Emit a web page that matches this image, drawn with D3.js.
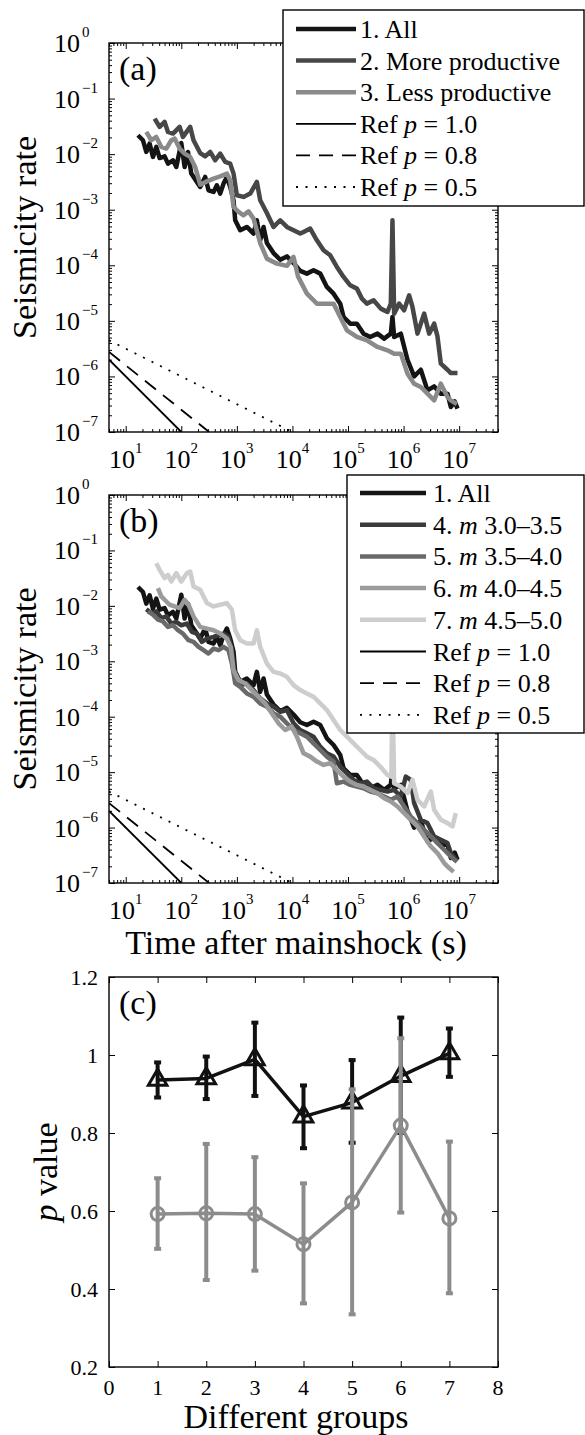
<!DOCTYPE html>
<html>
<head>
<meta charset="utf-8">
<script src="https://cdn.jsdelivr.net/npm/d3@7/dist/d3.min.js"></script>
<style>
body { margin: 0; background: #fff; }
svg text { font-family: "Liberation Serif", "DejaVu Serif", serif; fill: #000; }
</style>
</head>
<body>
<div id="chart"></div>
<script>
// curves are [log10 time (s), log10 seismicity rate]
var curveAll = [[1.22,-1.66],[1.31,-1.75],[1.37,-1.96],[1.43,-1.81],[1.49,-2.05],[1.55,-1.87],[1.61,-2.07],[1.70,-2.04],[1.76,-2.17],[1.85,-2.11],[1.91,-2.23],[2.00,-1.80],[2.06,-2.23],[2.12,-1.96],[2.18,-2.35],[2.28,-2.50],[2.34,-2.59],[2.43,-2.41],[2.49,-2.65],[2.58,-2.68],[2.64,-2.56],[2.70,-2.71],[2.76,-2.53],[2.82,-2.41],[2.88,-2.59],[2.94,-2.83],[2.97,-3.19],[3.06,-3.37],[3.18,-3.31],[3.30,-3.43],[3.36,-3.19],[3.42,-3.55],[3.48,-3.31],[3.54,-3.60],[3.66,-3.78],[3.78,-3.90],[3.90,-3.84],[4.02,-3.96],[4.14,-4.10],[4.26,-4.15],[4.38,-4.09],[4.50,-4.15],[4.62,-4.39],[4.74,-4.51],[4.86,-4.69],[4.92,-4.93],[5.04,-5.05],[5.16,-5.05],[5.28,-5.23],[5.40,-5.29],[5.53,-5.23],[5.65,-5.32],[5.77,-5.23],[5.80,-4.93],[5.83,-5.29],[5.95,-5.23],[6.07,-5.70],[6.19,-6.00],[6.31,-5.88],[6.43,-6.25],[6.55,-6.18],[6.67,-6.31],[6.79,-6.31],[6.85,-6.55],[6.92,-6.45],[6.97,-6.58]];

var curveMore = [[1.52,-1.36],[1.61,-1.51],[1.70,-1.42],[1.76,-1.60],[1.85,-1.63],[1.97,-1.51],[2.03,-1.69],[2.16,-1.51],[2.22,-1.75],[2.34,-1.98],[2.43,-2.04],[2.52,-1.96],[2.61,-2.11],[2.70,-1.99],[2.79,-2.14],[2.88,-2.17],[2.94,-2.35],[3.00,-2.74],[3.12,-2.77],[3.24,-2.71],[3.36,-2.50],[3.42,-2.83],[3.54,-3.06],[3.66,-3.31],[3.78,-3.19],[3.90,-3.31],[4.02,-3.37],[4.14,-3.43],[4.20,-3.40],[4.32,-3.34],[4.44,-3.55],[4.56,-3.73],[4.68,-3.82],[4.80,-4.03],[4.92,-4.21],[5.04,-4.36],[5.16,-4.42],[5.25,-4.60],[5.34,-4.69],[5.46,-4.63],[5.59,-4.78],[5.71,-4.84],[5.77,-4.69],[5.80,-3.19],[5.83,-4.87],[5.92,-4.69],[6.01,-4.81],[6.10,-4.54],[6.16,-4.75],[6.25,-5.23],[6.37,-4.87],[6.46,-5.23],[6.55,-5.05],[6.61,-5.28],[6.67,-5.77],[6.79,-5.88],[6.85,-5.94],[6.97,-5.94]];

var curveLess = [[1.37,-1.60],[1.46,-1.75],[1.55,-1.69],[1.64,-1.87],[1.73,-1.90],[1.82,-1.75],[1.88,-1.72],[1.97,-1.90],[2.06,-1.99],[2.16,-2.05],[2.25,-2.23],[2.34,-2.55],[2.46,-2.49],[2.58,-2.44],[2.70,-2.40],[2.82,-2.35],[2.88,-2.47],[2.94,-2.95],[3.03,-3.04],[3.12,-3.10],[3.21,-3.03],[3.30,-3.16],[3.42,-3.60],[3.54,-3.88],[3.72,-3.97],[3.90,-4.01],[4.02,-3.85],[4.10,-4.20],[4.26,-4.51],[4.44,-4.69],[4.62,-4.69],[4.74,-4.69],[4.86,-4.93],[4.98,-5.17],[5.16,-5.29],[5.34,-5.35],[5.53,-5.47],[5.71,-5.53],[5.83,-5.59],[5.95,-5.59],[6.07,-5.95],[6.19,-6.13],[6.31,-6.19],[6.43,-6.31],[6.55,-6.43],[6.67,-6.13],[6.79,-6.37],[6.85,-6.43],[6.96,-6.50]];

var curveM30 = [[1.37,-2.06],[1.46,-2.13],[1.55,-2.10],[1.64,-2.22],[1.73,-2.19],[1.82,-2.32],[1.91,-2.29],[2.00,-2.35],[2.10,-2.32],[2.19,-2.47],[2.28,-2.50],[2.37,-2.65],[2.46,-2.59],[2.58,-2.56],[2.67,-2.53],[2.76,-2.50],[2.85,-2.56],[2.91,-2.80],[2.97,-3.28],[3.06,-3.43],[3.18,-3.40],[3.30,-3.52],[3.42,-3.67],[3.54,-3.76],[3.66,-3.82],[3.78,-3.91],[3.90,-3.88],[4.02,-4.12],[4.14,-4.24],[4.26,-4.30],[4.38,-4.36],[4.50,-4.54],[4.62,-4.66],[4.74,-4.72],[4.86,-4.90],[4.98,-5.02],[5.10,-5.14],[5.22,-5.20],[5.34,-5.17],[5.46,-5.29],[5.58,-5.32],[5.71,-5.35],[5.83,-5.32],[5.95,-5.44],[6.04,-5.08],[6.13,-5.14],[6.19,-5.56],[6.31,-5.86],[6.43,-5.92],[6.55,-6.16],[6.67,-6.22],[6.79,-6.28],[6.85,-6.46],[6.96,-6.60]];

var curveM35 = [[1.40,-2.10],[1.49,-2.16],[1.58,-2.25],[1.67,-2.28],[1.76,-2.38],[1.85,-2.35],[1.94,-2.44],[2.03,-2.50],[2.13,-2.62],[2.22,-2.65],[2.31,-2.74],[2.40,-2.80],[2.49,-2.86],[2.58,-2.77],[2.67,-2.80],[2.76,-2.74],[2.85,-2.80],[2.91,-3.04],[2.97,-3.40],[3.06,-3.46],[3.18,-3.58],[3.30,-3.64],[3.42,-3.76],[3.54,-3.82],[3.66,-3.94],[3.78,-4.00],[3.90,-4.12],[4.02,-4.24],[4.14,-4.30],[4.26,-4.36],[4.38,-4.48],[4.50,-4.60],[4.62,-4.72],[4.74,-4.81],[4.80,-5.20],[4.92,-5.17],[5.04,-5.23],[5.16,-5.26],[5.28,-5.29],[5.40,-5.35],[5.53,-5.38],[5.65,-5.44],[5.77,-5.50],[5.89,-5.44],[6.01,-5.62],[6.13,-5.80],[6.25,-5.92],[6.37,-6.04],[6.49,-6.16],[6.61,-6.28],[6.73,-6.40],[6.85,-6.52],[6.96,-6.62]];

var curveM40 = [[1.58,-1.68],[1.64,-1.83],[1.70,-1.89],[1.79,-1.98],[1.88,-2.01],[1.97,-2.04],[2.06,-1.89],[2.13,-1.98],[2.22,-2.19],[2.34,-2.38],[2.46,-2.41],[2.58,-2.44],[2.70,-2.50],[2.82,-2.59],[2.89,-2.74],[2.94,-3.16],[3.03,-3.34],[3.15,-3.40],[3.27,-3.52],[3.39,-3.64],[3.51,-3.76],[3.63,-3.94],[3.75,-4.12],[3.87,-4.24],[3.99,-4.18],[4.08,-4.36],[4.20,-4.66],[4.32,-4.72],[4.44,-4.81],[4.56,-4.87],[4.68,-4.84],[4.80,-4.96],[4.92,-5.08],[5.04,-5.17],[5.16,-5.23],[5.28,-5.26],[5.40,-5.32],[5.53,-5.38],[5.65,-5.47],[5.77,-5.53],[5.89,-5.62],[6.01,-5.74],[6.13,-5.86],[6.25,-5.98],[6.37,-6.16],[6.49,-6.34],[6.61,-6.46],[6.73,-6.64],[6.82,-6.73],[6.90,-6.80]];

var curveM45 = [[1.55,-1.23],[1.61,-1.35],[1.70,-1.50],[1.76,-1.44],[1.82,-1.56],[1.91,-1.41],[2.00,-1.56],[2.10,-1.41],[2.16,-1.38],[2.22,-1.65],[2.34,-1.71],[2.46,-1.95],[2.58,-2.01],[2.70,-1.98],[2.82,-1.95],[2.91,-2.07],[2.97,-2.44],[3.06,-2.62],[3.18,-2.68],[3.30,-2.68],[3.36,-2.44],[3.42,-2.74],[3.54,-3.04],[3.66,-3.19],[3.78,-3.22],[3.90,-3.28],[4.02,-3.43],[4.14,-3.52],[4.26,-3.58],[4.38,-3.64],[4.50,-3.76],[4.62,-3.88],[4.74,-4.06],[4.86,-4.24],[4.98,-4.36],[5.10,-4.48],[5.22,-4.60],[5.34,-4.72],[5.46,-4.78],[5.58,-4.90],[5.71,-5.05],[5.78,-5.08],[5.80,-3.50],[5.83,-5.20],[5.95,-5.26],[6.07,-5.38],[6.16,-5.14],[6.25,-5.50],[6.37,-5.62],[6.49,-5.35],[6.55,-5.68],[6.67,-5.86],[6.79,-5.92],[6.88,-5.98],[6.94,-5.74]];

// reference decays, end points [log10 t, log10 rate]
var refP10 = [[0.70,-5.70],[2.00,-7.00]];
var refP08 = [[0.70,-5.56],[2.50,-7.00]];
var refP05 = [[0.70,-5.35],[4.00,-7.00]];

var legendA = ["1. All", "2. More productive", "3. Less productive", "Ref *p* = 1.0", "Ref *p* = 0.8", "Ref *p* = 0.5"];
var legendB = ["1. All", "4. *m* 3.0\u20133.5", "5. *m* 3.5\u20134.0", "6. *m* 4.0\u20134.5", "7. *m* 4.5\u20135.0", "Ref *p* = 1.0", "Ref *p* = 0.8", "Ref *p* = 0.5"];

// panel (c): p values per group
var groups = [1, 2, 3, 4, 5, 6, 7];
var pAll = [0.936, 0.940, 0.989, 0.842, 0.878, 0.946, 1.004];
var pAllLow = [0.891, 0.887, 0.895, 0.761, 0.775, 0.800, 0.944];
var pAllHigh = [0.981, 0.996, 1.083, 0.922, 0.987, 1.096, 1.068];
var pOther = [0.592, 0.594, 0.592, 0.515, 0.622, 0.819, 0.581];
var pOtherLow = [0.503, 0.423, 0.447, 0.363, 0.335, 0.596, 0.389];
var pOtherHigh = [0.684, 0.772, 0.738, 0.671, 0.912, 1.043, 0.778];

var timeTickExp = [1, 2, 3, 4, 5, 6, 7];
var rateTickExp = [0, -1, -2, -3, -4, -5, -6, -7];
var groupTicks = [0, 1, 2, 3, 4, 5, 6, 7, 8];
var pTicks = [0.2, 0.4, 0.6, 0.8, 1.0, 1.2];
var pTickLabels = ["0.2", "0.4", "0.6", "0.8", "1", "1.2"];

var svgWidth = 585;
var svgHeight = 1435;

var svg = d3.select("#chart")
    .append("svg")
    .attr("width", svgWidth)
    .attr("height", svgHeight)
    .attr("font-family", "Liberation Serif, DejaVu Serif, serif");

var panelA = {left: 109, right: 498, top: 43, bottom: 432};
var panelB = {left: 109, right: 498, top: 495, bottom: 883};
var panelC = {left: 109, right: 498, top: 977, bottom: 1367};

function pow10(v) { return Math.pow(10, v); }

// inward ticks on all four sides, major and minor
function boxTicks(box, x, y, xMajor, xMinor, yMajor, yMinor) {
    var sides = [
        [d3.axisBottom, x, xMajor, xMinor, `translate(0,${box.bottom})`],
        [d3.axisTop, x, xMajor, xMinor, `translate(0,${box.top})`],
        [d3.axisLeft, y, yMajor, yMinor, `translate(${box.left},0)`],
        [d3.axisRight, y, yMajor, yMinor, `translate(${box.right},0)`]
    ];
    sides.forEach(function(s) {
        [[s[2], 6], [s[3], 3]].forEach(function(t) {
            if (!t[0].length) return;
            svg.append("g")
                .attr("transform", s[4])
                .call(s[0](s[1]).tickValues(t[0]).tickSize(-t[1]).tickFormat(""))
                .call(g => g.select(".domain").remove())
                .selectAll("line").attr("stroke", "#000").attr("stroke-width", 1);
        });
    });
    svg.append("rect")
        .attr("x", box.left).attr("y", box.top)
        .attr("width", box.right - box.left).attr("height", box.bottom - box.top)
        .attr("fill", "none").attr("stroke", "#000").attr("stroke-width", 1.4);
}

function richText(sel, str) {
    str.split("*").forEach(function(part, i) {
        if (!part) return;
        sel.append("tspan").attr("font-style", i % 2 ? "italic" : null).text(part);
    });
}

function drawRatePanel(box, curves, colors, name) {
    var x = d3.scaleLog().domain([5, 5e7]).range([box.left, box.right]);
    var y = d3.scaleLog().domain([1e-7, 1]).range([box.bottom, box.top]);

    svg.append("clipPath").attr("id", "clip" + name)
        .append("rect")
        .attr("x", box.left).attr("y", box.top)
        .attr("width", box.right - box.left).attr("height", box.bottom - box.top);

    var plot = svg.append("g").attr("clip-path", `url(#clip${name})`);
    var line = d3.line()
        .x(d => x(pow10(d[0])))
        .y(d => y(pow10(d[1])));

    curves.forEach(function(c, i) {
        plot.append("path").datum(c)
            .attr("d", line)
            .attr("fill", "none")
            .attr("stroke", colors[i])
            .attr("stroke-width", 4.5)
            .attr("stroke-linejoin", "round");
    });

    [[refP10, null], [refP08, "14,9"], [refP05, "2,7.5"]].forEach(function(r) {
        plot.append("path").datum(r[0])
            .attr("d", line)
            .attr("fill", "none")
            .attr("stroke", "#000")
            .attr("stroke-width", 1.8)
            .attr("stroke-dasharray", r[1]);
    });

    var xMajor = timeTickExp.map(pow10);
    var xMinor = [];
    for (var k = 0; k <= 7; k++) {
        for (var m = 2; m <= 9; m++) {
            var v = m * pow10(k);
            if (v >= 5 && v <= 5e7) xMinor.push(v);
        }
    }
    var yMajor = rateTickExp.map(pow10);
    var yMinor = [];
    for (var k2 = -7; k2 < 0; k2++) {
        for (var m2 = 2; m2 <= 9; m2++) yMinor.push(m2 * pow10(k2));
    }
    boxTicks(box, x, y, xMajor, xMinor, yMajor, yMinor);

    // tick labels as 10 with superscript
    timeTickExp.forEach(function(e) {
        var t = svg.append("text")
            .attr("x", x(pow10(e)))
            .attr("y", box.bottom + 36)
            .attr("text-anchor", "middle")
            .attr("font-size", 26)
            .text("10");
        t.append("tspan").attr("font-size", 15).attr("dy", -15).text(e);
    });
    rateTickExp.forEach(function(e) {
        var yy = y(pow10(e));
        svg.append("text")
            .attr("x", box.left - 29).attr("y", yy + 9)
            .attr("text-anchor", "end")
            .attr("font-size", 26)
            .text("10");
        svg.append("text")
            .attr("x", box.left - 27).attr("y", yy - 6)
            .attr("font-size", 15)
            .text(e === 0 ? "0" : "\u2212" + (-e));
    });

    svg.append("text")
        .attr("transform", `translate(36,${(box.top + box.bottom) / 2}) rotate(-90)`)
        .attr("text-anchor", "middle")
        .attr("font-size", 34)
        .text("Seismicity rate");

    svg.append("text")
        .attr("x", box.left + 10).attr("y", box.top + 37)
        .attr("font-size", 34)
        .text("(" + name + ")");
}

function drawLegend(lg, labels, styles) {
    var g = svg.append("g");
    g.append("rect")
        .attr("x", lg.x).attr("y", lg.y).attr("width", lg.w).attr("height", lg.h)
        .attr("fill", "#fff").attr("stroke", "#000").attr("stroke-width", 1.4);
    labels.forEach(function(lab, i) {
        var cy = lg.first + i * lg.step;
        g.append("line")
            .attr("x1", lg.x1).attr("x2", lg.x2).attr("y1", cy).attr("y2", cy)
            .attr("stroke", styles[i].color)
            .attr("stroke-width", styles[i].width)
            .attr("stroke-dasharray", styles[i].dash || null);
        var t = g.append("text")
            .attr("x", lg.tx).attr("y", cy + 9)
            .attr("font-size", 26);
        richText(t, lab);
    });
}

var refStyles = [
    {color: "#000", width: 1.8},
    {color: "#000", width: 1.8, dash: "14,9"},
    {color: "#000", width: 1.8, dash: "2,7.5"}
];

var colorsA = ["#141414", "#474747", "#8a8a8a"];
var colorsB = ["#141414", "#3a3a3a", "#6a6a6a", "#9b9b9b", "#cdcdcd"];

drawRatePanel(panelA, [curveAll, curveMore, curveLess], colorsA, "a");
drawRatePanel(panelB, [curveAll, curveM30, curveM35, curveM40, curveM45], colorsB, "b");

drawLegend({x: 283, y: 10, w: 301, h: 196, first: 29, step: 31.6, x1: 296, x2: 356, tx: 360},
    legendA, colorsA.map(c => ({color: c, width: 4.5})).concat(refStyles));
drawLegend({x: 347, y: 475, w: 237, h: 258, first: 493, step: 31.7, x1: 360, x2: 426, tx: 433},
    legendB, colorsB.map(c => ({color: c, width: 4.5})).concat(refStyles));

svg.append("text")
    .attr("x", 296).attr("y", 954)
    .attr("text-anchor", "middle")
    .attr("font-size", 34)
    .text("Time after mainshock (s)");

// panel (c)
var xc = d3.scaleLinear().domain([0, 8]).range([panelC.left, panelC.right]);
var yc = d3.scaleLinear().domain([0.2, 1.2]).range([panelC.bottom, panelC.top]);

boxTicks(panelC, xc, yc, groupTicks, [], pTicks, []);

groupTicks.forEach(function(v) {
    svg.append("text")
        .attr("x", xc(v)).attr("y", panelC.bottom + 28)
        .attr("text-anchor", "middle")
        .attr("font-size", 22)
        .text(v);
});
pTicks.forEach(function(v, i) {
    svg.append("text")
        .attr("x", panelC.left - 11).attr("y", yc(v) + 7.5)
        .attr("text-anchor", "end")
        .attr("font-size", 22)
        .text(pTickLabels[i]);
});

function drawPSeries(mean, low, high, color, marker) {
    var g = svg.append("g");
    groups.forEach(function(gr, i) {
        g.append("line")
            .attr("x1", xc(gr)).attr("x2", xc(gr))
            .attr("y1", yc(low[i])).attr("y2", yc(high[i]))
            .attr("stroke", color).attr("stroke-width", 4);
        [low[i], high[i]].forEach(function(v) {
            g.append("line")
                .attr("x1", xc(gr) - 3.5).attr("x2", xc(gr) + 3.5)
                .attr("y1", yc(v)).attr("y2", yc(v))
                .attr("stroke", color).attr("stroke-width", 4);
        });
    });
    g.append("path").datum(groups)
        .attr("d", d3.line().x(d => xc(d)).y((d, i) => yc(mean[i])))
        .attr("fill", "none")
        .attr("stroke", color)
        .attr("stroke-width", 3.5)
        .attr("stroke-linejoin", "round");
    groups.forEach(function(gr, i) {
        if (marker === "triangle") {
            g.append("path")
                .attr("d", d3.symbol().type(d3.symbolTriangle).size(150)())
                .attr("transform", `translate(${xc(gr)},${yc(mean[i])})`)
                .attr("fill", "none").attr("stroke", color).attr("stroke-width", 3);
        } else {
            g.append("circle")
                .attr("cx", xc(gr)).attr("cy", yc(mean[i])).attr("r", 6.5)
                .attr("fill", "none").attr("stroke", color).attr("stroke-width", 3);
        }
    });
}

drawPSeries(pAll, pAllLow, pAllHigh, "#111", "triangle");
drawPSeries(pOther, pOtherLow, pOtherHigh, "#8c8c8c", "circle");

svg.append("text")
    .attr("x", panelC.left + 10).attr("y", panelC.top + 37)
    .attr("font-size", 34)
    .text("(c)");

var pLabel = svg.append("text")
    .attr("transform", `translate(57,${(panelC.top + panelC.bottom) / 2}) rotate(-90)`)
    .attr("text-anchor", "middle")
    .attr("font-size", 34);
richText(pLabel, "*p* value");

svg.append("text")
    .attr("x", 296).attr("y", 1428)
    .attr("text-anchor", "middle")
    .attr("font-size", 34)
    .text("Different groups");
</script>
</body>
</html>
